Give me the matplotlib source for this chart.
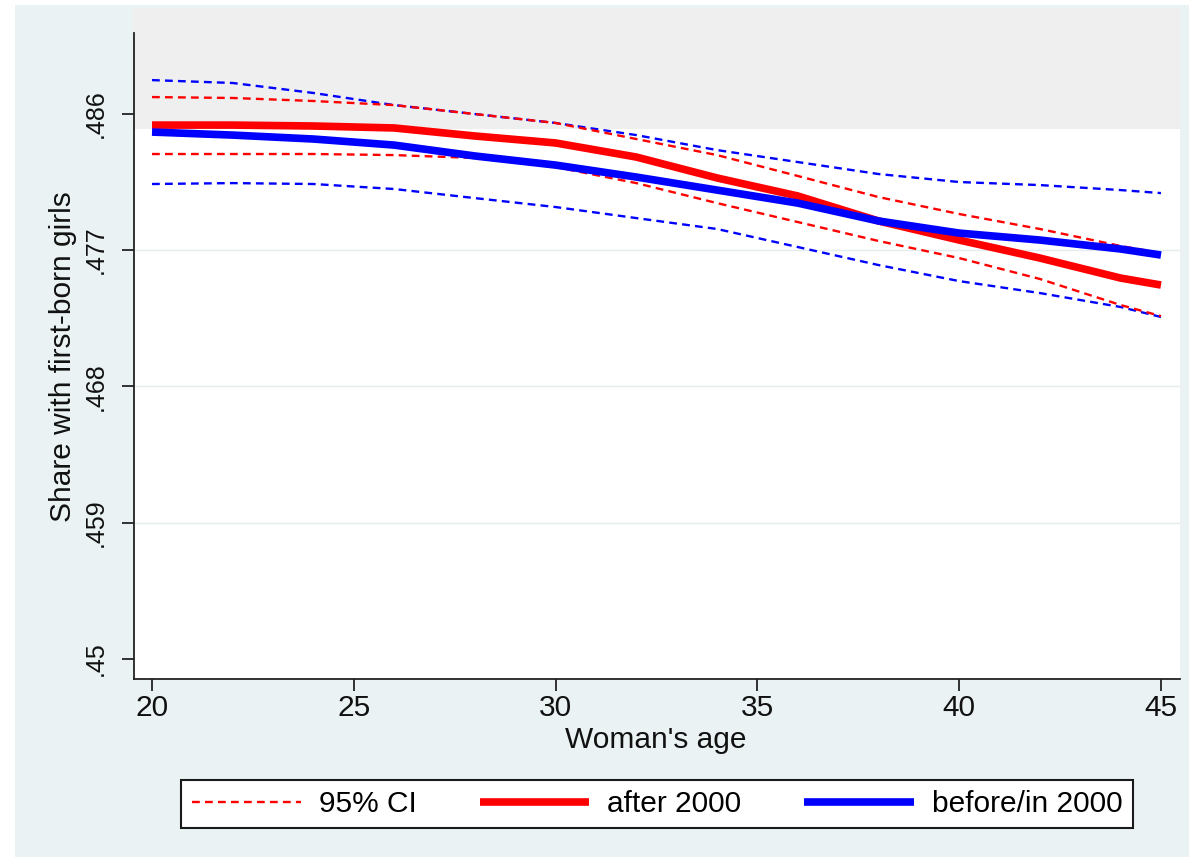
import matplotlib
matplotlib.use('Agg')
import matplotlib.pyplot as plt
from matplotlib.patches import Rectangle
from matplotlib.lines import Line2D

plt.rcParams['font.family'] = ['Liberation Sans', 'DejaVu Sans']

# ---- data ----
age = [20, 22, 24, 26, 28, 30, 32, 34, 36, 38, 40, 42, 44, 45]

after_mean = [0.48525, 0.48525, 0.48519, 0.48506, 0.48453, 0.48407, 0.48314,
              0.48176, 0.48057, 0.47892, 0.47766, 0.47647, 0.47515, 0.47469]
after_upper = [0.48710, 0.48704, 0.48684, 0.48657, 0.48598, 0.48539, 0.48433,
               0.48327, 0.48189, 0.48050, 0.47938, 0.47839, 0.47727, 0.47680]
after_lower = [0.48334, 0.48334, 0.48334, 0.48327, 0.48308, 0.48248, 0.48142,
               0.48010, 0.47885, 0.47760, 0.47647, 0.47509, 0.47337, 0.47264]

before_mean = [0.48479, 0.48459, 0.48433, 0.48393, 0.48321, 0.48261, 0.48182,
               0.48096, 0.48010, 0.47892, 0.47812, 0.47766, 0.47707, 0.47667]
before_upper = [0.48822, 0.48803, 0.48737, 0.48657, 0.48598, 0.48539, 0.48459,
                0.48360, 0.48281, 0.48202, 0.48149, 0.48129, 0.48096, 0.48076]
before_lower = [0.48136, 0.48142, 0.48136, 0.48103, 0.48043, 0.47984, 0.47911,
                0.47839, 0.47720, 0.47601, 0.47495, 0.47416, 0.47324, 0.47258]

x_ticks = [20, 25, 30, 35, 40, 45]
y_ticks = [0.45, 0.459, 0.468, 0.477, 0.486]
y_tick_labels = ['.45', '.459', '.468', '.477', '.486']
grid_values = [0.459, 0.468, 0.477]
legend_labels = ['95% CI', 'after 2000', 'before/in 2000']

# ---- figure ----
W, H = 1189, 857
fig = plt.figure(figsize=(W / 100, H / 100), dpi=100)
fig.patch.set_facecolor('white')
fig.patches.append(Rectangle((15 / W, 0), (W - 15) / W, (H - 5) / H,
                             transform=fig.transFigure, facecolor='#EAF2F3',
                             edgecolor='none', zorder=-10))

ax = fig.add_axes([134 / W, 1 - 679 / H, (1180 - 134) / W, (679 - 33) / H])
ax.set_zorder(1)
ax.set_facecolor('white')
ax.add_patch(Rectangle((133 / W, 1 - 129 / H), (1180 - 133) / W, 121 / H,
                       transform=fig.transFigure, facecolor='#EFEFEF',
                       edgecolor='none', zorder=0.5, clip_on=False))

for g in grid_values:
    ax.axhline(g, color='#E3ECEF', lw=1.0, zorder=0.6)

RED = '#FF0000'
BLUE = '#0000FF'
ci_kw = dict(lw=1.7, dashes=(3.3, 2.2))
ax.plot(age, before_upper, color=BLUE, zorder=2, **ci_kw)
ax.plot(age, before_lower, color=BLUE, zorder=2, **ci_kw)
ax.plot(age, after_upper, color=RED, zorder=2.1, **ci_kw)
ax.plot(age, after_lower, color=RED, zorder=2.1, **ci_kw)
ax.plot(age, after_mean, color=RED, lw=5.5, zorder=3, solid_capstyle='butt')
ax.plot(age, before_mean, color=BLUE, lw=5.5, zorder=3.1, solid_capstyle='butt')

ax.set_xlim(19.554, 45.471)
ax.set_ylim(0.44868, 0.49133)

for s in ['top', 'right']:
    ax.spines[s].set_visible(False)
for s in ['left', 'bottom']:
    ax.spines[s].set_color('#222222')
    ax.spines[s].set_linewidth(1.3)

ax.set_xticks(x_ticks)
ax.set_xticklabels([str(v) for v in x_ticks], fontsize=21.5, color='#111111')
ax.set_yticks(y_ticks)
ax.set_yticklabels(y_tick_labels, fontsize=18, rotation=90, va='center',
                   color='#111111')
ax.tick_params(axis='x', length=8.6, width=1.3, color='#222222', pad=2)
ax.tick_params(axis='y', length=8.6, width=1.3, color='#222222', pad=10)

fig.text(656 / W, 1 - 740 / H, "Woman's age", ha='center', va='center',
         fontsize=21.5, color='#111111')
fig.text(63 / W, 1 - 357 / H, 'Share with first-born girls', ha='center',
         va='center', rotation=90, fontsize=21.5, color='#111111')

handles = [Line2D([], [], color=RED, **ci_kw),
           Line2D([], [], color=RED, lw=5.5, solid_capstyle='butt'),
           Line2D([], [], color=BLUE, lw=5.5, solid_capstyle='butt')]
leg = ax.legend(handles, legend_labels, loc='center', ncol=3,
                bbox_to_anchor=(657 / W, 1 - 804 / H),
                bbox_transform=fig.transFigure, fontsize=21.5,
                frameon=True, fancybox=False, framealpha=1,
                borderpad=0.35, handlelength=3.67, handletextpad=0.6,
                columnspacing=2.1, borderaxespad=0)
leg.get_frame().set_edgecolor('#1A1A1A')
leg.get_frame().set_linewidth(1.5)
leg.get_frame().set_facecolor('white')

fig.savefig('out.png', dpi=100)
